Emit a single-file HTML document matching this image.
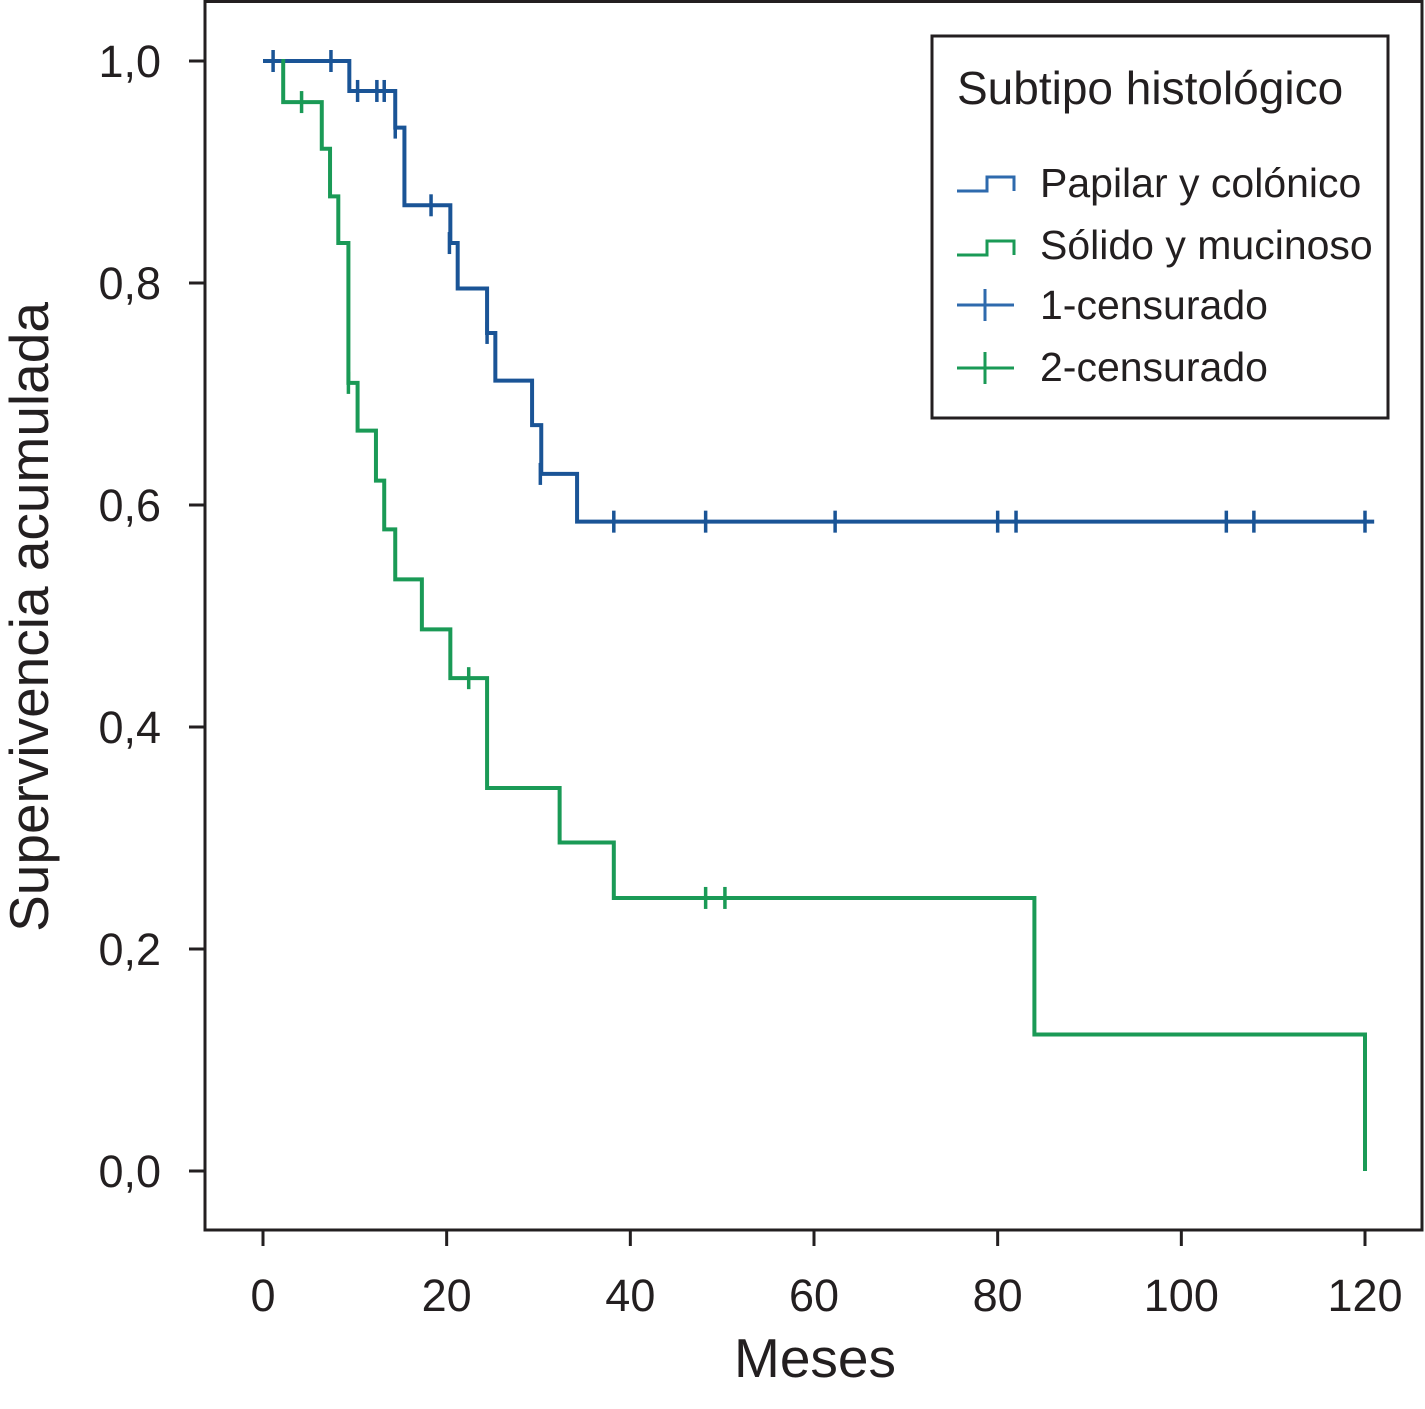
<!DOCTYPE html>
<html><head><meta charset="utf-8"><style>
body{margin:0;background:#fff}
svg text{font-family:"Liberation Sans",Arial,sans-serif;fill:#231f20}
</style></head><body>
<svg id="c" width="1425" height="1404" xmlns="http://www.w3.org/2000/svg">
<rect x="205" y="1.5" width="1217" height="1228.5" fill="none" stroke="#231f20" stroke-width="3"/>
<g id="axes"></g>
<g id="series"></g>
<text x="48" y="617" font-size="55" text-anchor="middle" transform="rotate(-90 48 617)">Supervivencia acumulada</text>
<text x="815" y="1377" font-size="55" text-anchor="middle">Meses</text>
<g>
<rect x="932" y="36" width="456" height="382" fill="#fff" stroke="#231f20" stroke-width="3"/>
<text x="957" y="104" font-size="46">Subtipo histológico</text>
<path d="M957 191H987V177H1014V191" fill="none" stroke="#2e6aad" stroke-width="3"/>
<text x="1040" y="197" font-size="41">Papilar y colónico</text>
<path d="M957 255H987V241H1014V255" fill="none" stroke="#1a9a56" stroke-width="3"/>
<text x="1040" y="259" font-size="41">Sólido y mucinoso</text>
<path d="M957 305H1014M985 289V321" fill="none" stroke="#2e6aad" stroke-width="3"/>
<text x="1040" y="319" font-size="41">1-censurado</text>
<path d="M957 368H1014M985 352V384" fill="none" stroke="#1a9a56" stroke-width="3"/>
<text x="1040" y="381" font-size="41">2-censurado</text>
</g>
</svg>
<script>
const xTicks=[0,20,40,60,80,100,120];
const yTicks=[0,0.2,0.4,0.6,0.8,1.0];
const yTickLabels=["0,0","0,2","0,4","0,6","0,8","1,0"];
const blueTimes=[0,9.4,14.4,15.4,20.4,21.2,24.4,25.3,29.3,30.3,34.2,121];
const blueSurv=[1.0,0.973,0.94,0.87,0.836,0.795,0.755,0.712,0.672,0.628,0.585,0.585];
const blueCensT=[1.1,7.4,10.3,12.4,13.2,14.4,18.3,20.3,24.4,30.2,38.2,48.2,62.3,80,82,104.9,107.9,120];
const blueCensS=[1,1,0.973,0.973,0.973,0.94,0.87,0.836,0.755,0.628,0.585,0.585,0.585,0.585,0.585,0.585,0.585,0.585];
const greenTimes=[2,2.2,6.4,7.3,8.2,9.3,10.3,12.3,13.2,14.4,17.3,20.4,24.4,32.3,38.2,84,120];
const greenSurv=[1.0,0.963,0.921,0.878,0.836,0.71,0.667,0.622,0.578,0.533,0.488,0.444,0.345,0.296,0.246,0.123,0];
const greenCensT=[4.2,9.3,22.4,48.2,50.3];
const greenCensS=[0.963,0.71,0.444,0.246,0.246];
const X=t=>263+t*(1365-263)/120;
const Y=v=>1171-v*1110;
const NS="http://www.w3.org/2000/svg";
const ax=document.getElementById('axes'),sr=document.getElementById('series');
function mk(tag,attrs,parent){const e=document.createElementNS(NS,tag);for(const k in attrs)e.setAttribute(k,attrs[k]);parent.appendChild(e);return e;}
xTicks.forEach(t=>{
 const l=mk('line',{x1:X(t),x2:X(t),y1:1230,y2:1246,stroke:'#231f20','stroke-width':3},ax);
 
 
 const tx=mk('text',{x:X(t),y:1311,'font-size':45,'text-anchor':'middle'},ax);tx.textContent=t;
 
 
});
yTicks.forEach((v,i)=>{
 const l=mk('line',{x1:189,x2:205,y1:Y(v),y2:Y(v),stroke:'#231f20','stroke-width':3},ax);
 
 
 const tx=mk('text',{x:161,y:Y(v)+16,'font-size':45,'text-anchor':'end'},ax);tx.textContent=yTickLabels[i];
 
 
});
function curve(T,S,color,name){
 let d='M'+X(T[0])+' '+Y(S[0]);
 for(let i=1;i<T.length;i++){d+='H'+X(T[i])+'V'+Y(S[i]);}
 const p=mk('path',{d:d,fill:'none',stroke:color,'stroke-width':4},sr);
 
 
}
function cens(T,S,color,name){
 T.forEach((t,i)=>{
  const l=mk('line',{x1:X(t),x2:X(t),y1:Y(S[i])-11,y2:Y(S[i])+11,stroke:color,'stroke-width':3.5},sr);
  
  
 });
}
curve(blueTimes,blueSurv,'#1a5496','curve-papilar');
curve(greenTimes,greenSurv,'#1a9a56','curve-solido');
cens(blueCensT,blueCensS,'#1a5496','censor-mark-1');
cens(greenCensT,greenCensS,'#1a9a56','censor-mark-2');
</script>
</body></html>
